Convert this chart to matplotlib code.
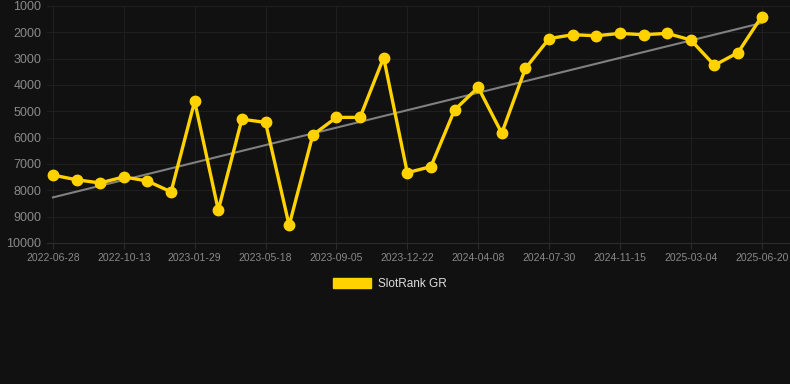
import numpy as np
import matplotlib
matplotlib.use("Agg")
import matplotlib.pyplot as plt
from matplotlib.patches import Patch

# rank values (lower = better, axis inverted)
ranks = [7420, 7600, 7720, 7490, 7645, 8060, 4620, 8750, 5300, 5420,
         9330, 5900, 5230, 5230, 2960, 7330, 7100, 4950, 4090, 5830,
         3370, 2240, 2090, 2130, 2040, 2090, 2040, 2290, 3250, 2770, 1400]
tick_labels = ["2022-06-28", "2022-10-13", "2023-01-29", "2023-05-18",
               "2023-09-05", "2023-12-22", "2024-04-08", "2024-07-30",
               "2024-11-15", "2025-03-04", "2025-06-20"]
y_ticks = [1000, 2000, 3000, 4000, 5000, 6000, 7000, 8000, 9000, 10000]
series_name = "SlotRank GR"

bg = "#111111"
gold = "#FFD200"

plt.rcParams["font.family"] = ["Liberation Sans", "DejaVu Sans"]

fig = plt.figure(figsize=(7.9, 3.84), dpi=100, facecolor=bg)
ax = fig.add_axes([47 / 790, 141 / 384, 743 / 790, 237 / 384], facecolor=bg)

x = np.arange(len(ranks))
y = np.array(ranks)

# linear trend
k, b = np.polyfit(x, y, 1)
ax.plot(x, k * x + b, color="#808080", lw=1.5, zorder=2)

ax.plot(x, y, color=gold, lw=2.4, marker="o", markersize=7.5,
        markerfacecolor=gold, markeredgecolor=gold, zorder=3)

ax.set_ylim(10000, 1000)
ax.set_yticks(y_ticks)
ax.set_yticklabels([str(v) for v in y_ticks])
ax.set_xlim(-0.25, 31.2)
ax.set_xticks(np.arange(0, len(ranks), 3))
ax.set_xticklabels(tick_labels)

ax.grid(True, color="#1f1f1f", lw=0.8)
ax.set_axisbelow(True)
for s in ["top", "right", "left"]:
    ax.spines[s].set_visible(False)
ax.spines["bottom"].set_color("#2c2c2c")
ax.tick_params(axis="y", length=0, pad=4, labelsize=9, labelcolor="#8a8a8a")
ax.tick_params(axis="x", length=4, color="#2c2c2c", pad=3, labelsize=7.5,
               labelcolor="#8a8a8a")

fig.legend(handles=[Patch(facecolor=gold, edgecolor=gold, label=series_name)],
           loc="center", bbox_to_anchor=(0.494, 1 - 284 / 384),
           frameon=False, handlelength=3.2, handleheight=1.0,
           labelcolor="#dddddd", fontsize=8.5, handletextpad=0.6)

fig.savefig("out.png", dpi=100, facecolor=bg)
